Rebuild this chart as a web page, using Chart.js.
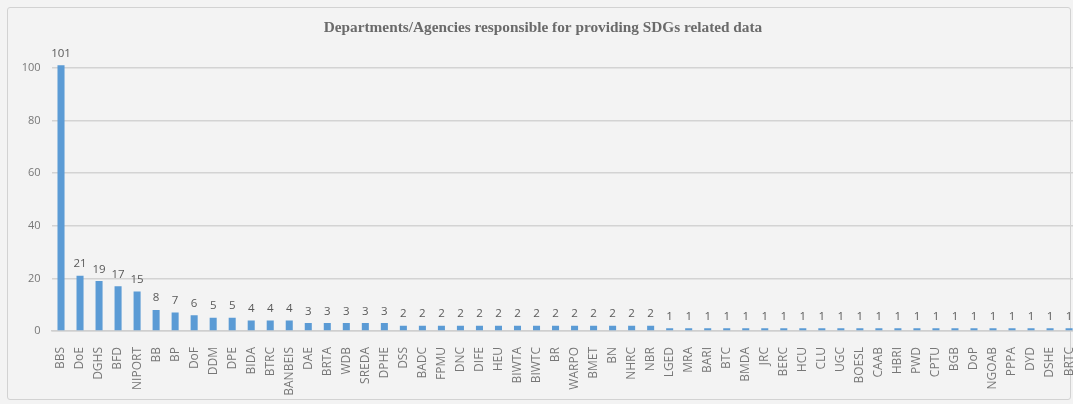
<!DOCTYPE html>
<html>
<head>
<meta charset="utf-8">
<script src="https://cdn.jsdelivr.net/npm/chart.js@4/dist/chart.umd.min.js"></script>
<style>
	html, body { margin: 0; padding: 0; background: #f3f3f3; overflow: hidden; }
	.frame { position: absolute; left: 7px; top: 7px; width: 1062px; height: 391px; border: 1px solid #d2d2d2; border-radius: 3px; }
	.chart-wrap { position: absolute; left: 0; top: 0; width: 1080px; height: 404px; }
</style>
</head>
<body>
<div class="frame"></div>
<div class="chart-wrap"><canvas id="chart"></canvas></div>
<script>
const title = "Departments/Agencies responsible for providing SDGs related data";

const agencies = ["BBS", "DoE", "DGHS", "BFD", "NIPORT", "BB", "BP", "DoF", "DDM", "DPE",
	"BIDA", "BTRC", "BANBEIS", "DAE", "BRTA", "WDB", "SREDA", "DPHE", "DSS", "BADC",
	"FPMU", "DNC", "DIFE", "HEU", "BIWTA", "BIWTC", "BR", "WARPO", "BMET", "BN",
	"NHRC", "NBR", "LGED", "MRA", "BARI", "BTC", "BMDA", "JRC", "BERC", "HCU",
	"CLU", "UGC", "BOESL", "CAAB", "HBRI", "PWD", "CPTU", "BGB", "DoP", "NGOAB",
	"PPPA", "DYD", "DSHE", "BRTC"];

const counts = [101, 21, 19, 17, 15, 8, 7, 6, 5, 5,
	4, 4, 4, 3, 3, 3, 3, 3, 2, 2,
	2, 2, 2, 2, 2, 2, 2, 2, 2, 2,
	2, 2, 1, 1, 1, 1, 1, 1, 1, 1,
	1, 1, 1, 1, 1, 1, 1, 1, 1, 1,
	1, 1, 1, 1];

const yTicks = [0, 20, 40, 60, 80, 100];

const labelFont = '"Open Sans", "Noto Sans", sans-serif';

// value labels above bars + title
const valueLabels = {
	id: 'valueLabels',
	afterDatasetsDraw(chart) {
		const {ctx} = chart;
		const meta = chart.getDatasetMeta(0);
		ctx.save();
		ctx.fillStyle = '#595959';
		ctx.font = '11.5px ' + labelFont;
		ctx.textAlign = 'center';
		ctx.textBaseline = 'bottom';
		meta.data.forEach((bar, i) => {
			ctx.fillText(counts[i], bar.x, bar.y - 6);
		});
		ctx.restore();
	},
	afterDraw(chart) {
		const {ctx} = chart;
		ctx.save();
		ctx.fillStyle = '#6a6a6a';
		ctx.font = 'bold 15.3px "Liberation Serif", "DejaVu Serif", serif';
		ctx.textAlign = 'center';
		ctx.textBaseline = 'middle';
		ctx.fillText(title, 543, 28);
		ctx.restore();
	}
};

new Chart(document.getElementById('chart'), {
	type: 'bar',
	data: {
		labels: agencies,
		datasets: [{
			data: counts,
			backgroundColor: '#5b9bd5',
			categoryPercentage: 1,
			barPercentage: 0.37
		}]
	},
	options: {
		responsive: true,
		maintainAspectRatio: false,
		animation: false,
		layout: {
			padding: { top: 41.7, left: 0, right: 1.4, bottom: 0 }
		},
		plugins: {
			legend: { display: false },
			tooltip: { enabled: false },
			title: { display: false }
		},
		scales: {
			x: {
				grid: { display: false },
				border: { color: '#cfcfcf', width: 1.5 },
				ticks: {
					color: '#777777',
					font: { size: 12, family: labelFont },
					minRotation: 90,
					maxRotation: 90,
					autoSkip: false,
					padding: 8
				},
				afterFit(scale) {
					scale.height = 73;
					scale.paddingLeft = 0;
					scale.paddingRight = 0;
				}
			},
			y: {
				min: 0,
				max: 110,
				afterBuildTicks(scale) {
					scale.ticks = yTicks.map(v => ({ value: v }));
				},
				grid: { color: '#d3d3d3', lineWidth: 1.5, drawTicks: false },
				border: { display: false },
				ticks: {
					color: '#777777',
					font: { size: 11, family: labelFont },
					padding: 11
				},
				afterFit(scale) { scale.width = 51.5; }
			}
		}
	},
	plugins: [valueLabels]
});
</script>
</body>
</html>
